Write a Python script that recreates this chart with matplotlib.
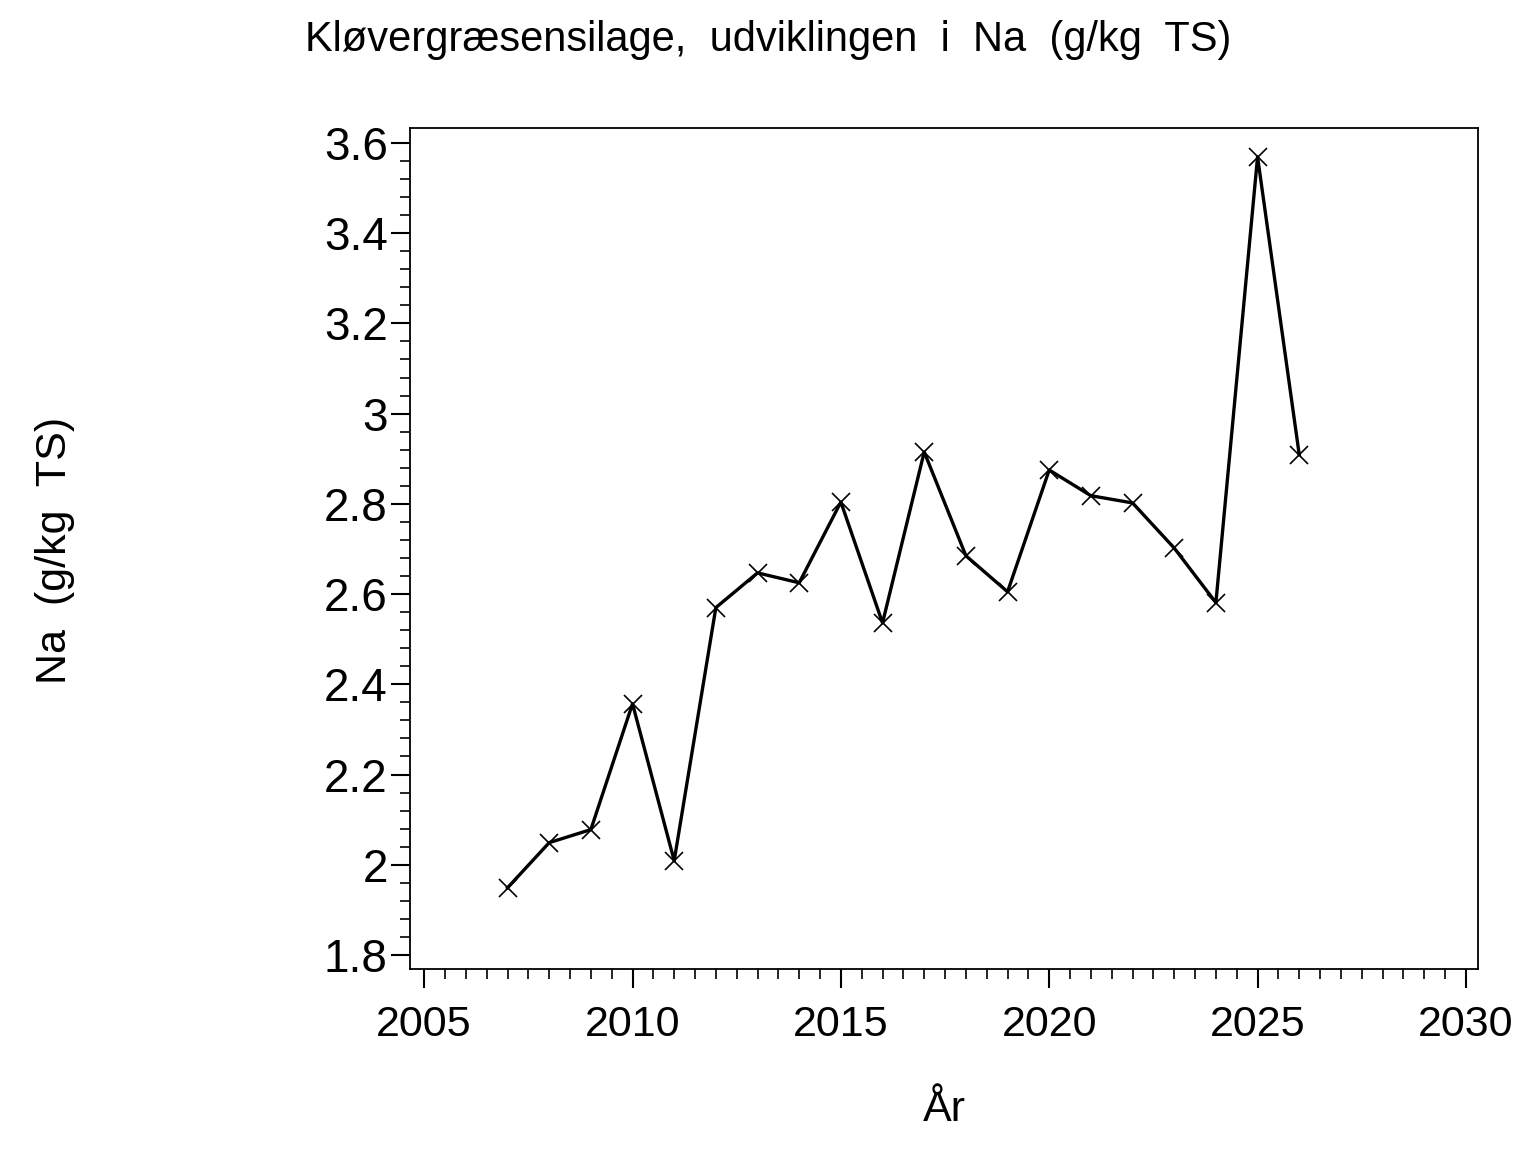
import matplotlib
matplotlib.use("Agg")
import matplotlib.pyplot as plt
from matplotlib.ticker import MultipleLocator, FuncFormatter

plt.rcParams['font.family'] = ['Liberation Sans', 'DejaVu Sans']

years = [2007, 2008, 2009, 2010, 2011, 2012, 2013, 2014, 2015, 2016,
         2017, 2018, 2019, 2020, 2021, 2022, 2023, 2024, 2025, 2026]
na = [1.949, 2.049, 2.078, 2.357, 2.009, 2.570, 2.647, 2.625, 2.804, 2.536,
      2.915, 2.685, 2.605, 2.875, 2.818, 2.802, 2.702, 2.581, 3.569, 2.909]

fig = plt.figure(figsize=(15.36, 11.52), dpi=100)
# axes frame in pixels: left 410, right 1478, top 128, bottom 969
ax = fig.add_axes([410/1536, 1 - 969/1152, (1478-410)/1536, (969-128)/1152])

ax.plot(years, na, color='black', lw=2.4, marker='x', markersize=13,
        markeredgewidth=1.2)

ax.set_xlim(2004.66, 2030.29)
ax.set_ylim(1.769, 3.633)
ax.xaxis.set_major_locator(MultipleLocator(5))
ax.xaxis.set_minor_locator(MultipleLocator(0.5))
ax.yaxis.set_major_locator(MultipleLocator(0.2))
ax.yaxis.set_minor_locator(MultipleLocator(0.04))
ax.yaxis.set_major_formatter(FuncFormatter(lambda v, p: f'{round(v, 1):g}'))

ax.tick_params(which='major', length=14, width=1.5, labelsize=31)
ax.tick_params(which='minor', length=7, width=1.2)
ax.tick_params(axis='x', pad=12)
ax.tick_params(axis='y', pad=2, labelsize=33)
for s in ax.spines.values():
    s.set_linewidth(1.3)

fig.text(0.5, 1 - 40/1152, 'Kløvergræsensilage,  udviklingen  i  Na  (g/kg  TS)',
         ha='center', va='center', fontsize=30)
fig.text(944/1536, 1 - 1110/1152, 'År', ha='center', va='center', fontsize=31)
fig.text(55/1536, 1 - 550/1152, 'Na  (g/kg  TS)', ha='center', va='center',
         fontsize=31, rotation=90)

fig.savefig('out.png', dpi=100)
